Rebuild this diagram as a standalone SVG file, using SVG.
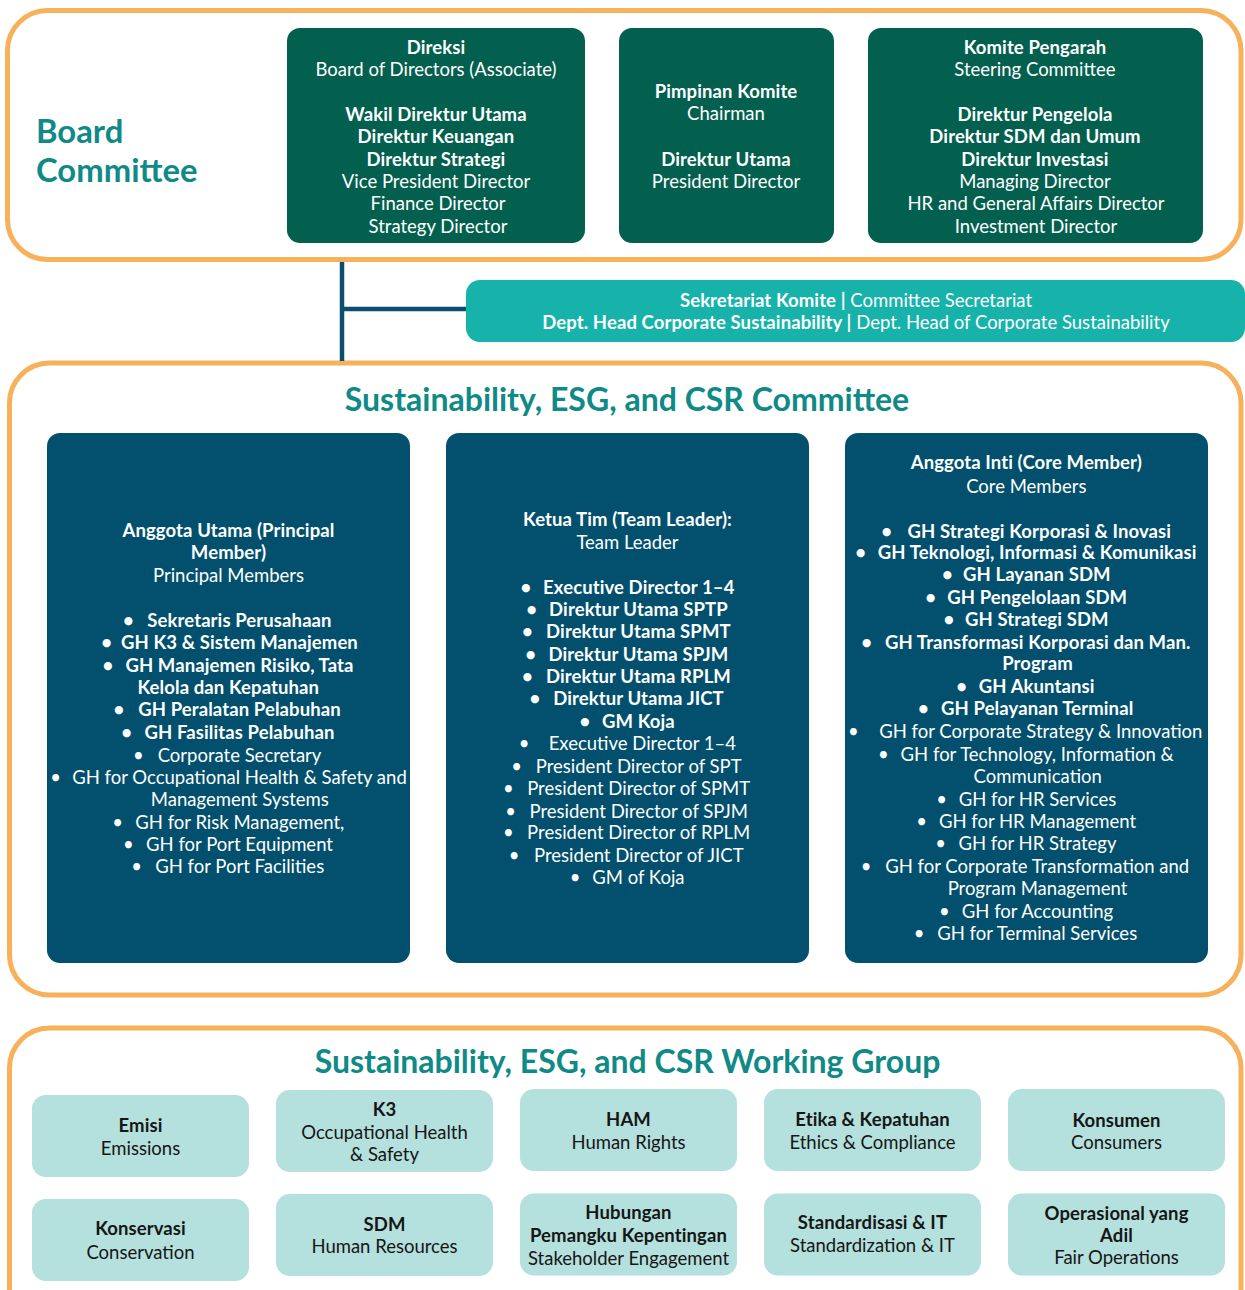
<svg xmlns="http://www.w3.org/2000/svg" width="1245" height="1290" viewBox="0 0 1245 1290">
<style>
text { font-family: Lato, "Liberation Sans", sans-serif; font-size: 18.5px; text-anchor: middle; }
.w { fill: #ffffff; }
.k { fill: #161616; }
.b { font-weight: 700; letter-spacing: 0.1px; }
.t { font-weight: 700; fill: #0F8A86; font-size: 32px; }
.bt { font-size: 32.8px; text-anchor: start; }
.frame { fill: none; stroke: #F8B15B; stroke-width: 5; }
.green { fill: #03604F; }
.blue { fill: #02506D; }
.sec { fill: #17B3AB; }
.wg { fill: #B4E0DD; }
.conn { stroke: #0A4F6E; stroke-width: 4.5; fill: none; }
</style>

<!-- frames -->
<rect class="frame" x="7.5" y="10.5" width="1233.5" height="249" rx="40"/>
<rect class="frame" x="9.5" y="363" width="1231.5" height="632" rx="40"/>
<rect class="frame" x="9.5" y="1028" width="1231.5" height="320" rx="40"/>

<!-- connectors -->
<g id="connectors">
  <line class="conn" x1="342" y1="262" x2="342" y2="361"/>
  <line class="conn" x1="342" y1="309" x2="467" y2="309"/>
</g>

<g id="board-title">
  <text class="t bt" x="36" y="143.3">Board</text>
  <text class="t bt" x="36" y="181.7">Committee</text>
</g>

<g id="direksi">
  <rect class="green" x="287" y="28" width="298" height="215" rx="13"/>
  <text class="w b" x="436" y="53.5">Direksi</text>
  <text class="w" x="436" y="76">Board of Directors (Associate)</text>
  <text class="w b" x="436" y="121">Wakil Direktur Utama</text>
  <text class="w b" x="436" y="143">Direktur Keuangan</text>
  <text class="w b" x="436" y="165.5">Direktur Strategi</text>
  <text class="w" x="436" y="188">Vice President Director</text>
  <text class="w" x="438" y="210">Finance Director</text>
  <text class="w" x="438" y="232.5">Strategy Director</text>
</g>

<g id="pimpinan">
  <rect class="green" x="619" y="28" width="215" height="215" rx="13"/>
  <text class="w b" x="726" y="97.5">Pimpinan Komite</text>
  <text class="w" x="726" y="120">Chairman</text>
  <text class="w b" x="726" y="165.5">Direktur Utama</text>
  <text class="w" x="726" y="188">President Director</text>
</g>

<g id="komite-pengarah">
  <rect class="green" x="868" y="28" width="335" height="215" rx="13"/>
  <text class="w b" x="1035" y="53.5">Komite Pengarah</text>
  <text class="w" x="1035" y="76">Steering Committee</text>
  <text class="w b" x="1035" y="121">Direktur Pengelola</text>
  <text class="w b" x="1035" y="143">Direktur SDM dan Umum</text>
  <text class="w b" x="1035" y="165.5">Direktur Investasi</text>
  <text class="w" x="1035" y="188">Managing Director</text>
  <text class="w" x="1036" y="210">HR and General Affairs Director</text>
  <text class="w" x="1036" y="232.5">Investment Director</text>
</g>

<g id="sekretariat">
  <rect class="sec" x="466" y="280" width="779" height="62" rx="14"/>
  <text class="w" x="856" y="307"><tspan class="b">Sekretariat Komite |</tspan> Committee Secretariat</text>
  <text class="w" x="856" y="329"><tspan class="b">Dept. Head Corporate Sustainability |</tspan> Dept. Head of Corporate Sustainability</text>
</g>

<text class="t" x="627" y="411">Sustainability, ESG, and CSR Committee</text>

<g id="principal-members">
  <rect class="blue" x="47" y="433" width="363" height="530" rx="13"/>
  <text class="w b" x="228.5" y="537">Anggota Utama (Principal</text>
  <text class="w b" x="228.5" y="559">Member)</text>
  <text class="w" x="228.5" y="582">Principal Members</text>
  <text class="w b" x="128.3" y="627">•</text><text class="w b" x="239.5" y="627">Sekretaris Perusahaan</text>
  <text class="w b" x="106.7" y="649">•</text><text class="w b" x="239.5" y="649">GH K3 &amp; Sistem Manajemen</text>
  <text class="w b" x="108" y="672">•</text><text class="w b" x="239.5" y="672">GH Manajemen Risiko, Tata</text>
  <text class="w b" x="228.3" y="693.5">Kelola dan Kepatuhan</text>
  <text class="w b" x="119" y="716">•</text><text class="w b" x="239.5" y="716">GH Peralatan Pelabuhan</text>
  <text class="w b" x="126.7" y="739">•</text><text class="w b" x="239.5" y="739">GH Fasilitas Pelabuhan</text>
  <text class="w" x="138.3" y="761.5">•</text><text class="w" x="239.5" y="761.5">Corporate Secretary</text>
  <text class="w" x="55.7" y="784">•</text><text class="w" x="239.5" y="784">GH for Occupational Health &amp; Safety and</text>
  <text class="w" x="239.8" y="806">Management Systems</text>
  <text class="w" x="117.7" y="828.5">•</text><text class="w" x="239.8" y="828.5">GH for Risk Management,</text>
  <text class="w" x="128.3" y="850.5">•</text><text class="w" x="239.5" y="850.5">GH for Port Equipment</text>
  <text class="w" x="136.7" y="873">•</text><text class="w" x="239.7" y="873">GH for Port Facilities</text>
</g>

<g id="team-leader">
  <rect class="blue" x="446" y="433" width="363" height="530" rx="13"/>
  <text class="w b" x="627.5" y="526">Ketua Tim (Team Leader):</text>
  <text class="w" x="627.5" y="548.7">Team Leader</text>
  <text class="w b" x="526" y="593.7">•</text><text class="w b" x="638.8" y="593.7">Executive Director 1–4</text>
  <text class="w b" x="531.7" y="616">•</text><text class="w b" x="638.4" y="616">Direktur Utama SPTP</text>
  <text class="w b" x="527.3" y="637.7">•</text><text class="w b" x="638.4" y="637.7">Direktur Utama SPMT</text>
  <text class="w b" x="530.7" y="661">•</text><text class="w b" x="638.4" y="661">Direktur Utama SPJM</text>
  <text class="w b" x="527.3" y="682.7">•</text><text class="w b" x="638.5" y="682.7">Direktur Utama RPLM</text>
  <text class="w b" x="535" y="705.3">•</text><text class="w b" x="638.5" y="705.3">Direktur Utama JICT</text>
  <text class="w b" x="585" y="728.3">•</text><text class="w b" x="638.4" y="728.3">GM Koja</text>
  <text class="w" x="524" y="750.3">•</text><text class="w" x="642.3" y="750.3">Executive Director 1–4</text>
  <text class="w" x="516.7" y="772.7">•</text><text class="w" x="638.7" y="772.7">President Director of SPT</text>
  <text class="w" x="508.3" y="795">•</text><text class="w" x="638.7" y="795">President Director of SPMT</text>
  <text class="w" x="510.7" y="817.7">•</text><text class="w" x="638.7" y="817.7">President Director of SPJM</text>
  <text class="w" x="508.3" y="839.3">•</text><text class="w" x="638.7" y="839.3">President Director of RPLM</text>
  <text class="w" x="514" y="862">•</text><text class="w" x="638.8" y="862">President Director of JICT</text>
  <text class="w" x="575" y="884.3">•</text><text class="w" x="638.4" y="884.3">GM of Koja</text>
</g>

<g id="core-members">
  <rect class="blue" x="845" y="433" width="363" height="530" rx="13"/>
  <text class="w b" x="1026.3" y="469.3">Anggota Inti (Core Member)</text>
  <text class="w" x="1026.3" y="492.7">Core Members</text>
  <text class="w b" x="886.7" y="537.7">•</text><text class="w b" x="1039.3" y="537.7">GH Strategi Korporasi &amp; Inovasi</text>
  <text class="w b" x="860.7" y="559.3">•</text><text class="w b" x="1037.2" y="559.3">GH Teknologi, Informasi &amp; Komunikasi</text>
  <text class="w b" x="947.3" y="581.3">•</text><text class="w b" x="1036.8" y="581.3">GH Layanan SDM</text>
  <text class="w b" x="930.7" y="604">•</text><text class="w b" x="1037.2" y="604">GH Pengelolaan SDM</text>
  <text class="w b" x="949" y="626.3">•</text><text class="w b" x="1036.8" y="626.3">GH Strategi SDM</text>
  <text class="w b" x="866.7" y="648.7">•</text><text class="w b" x="1037.7" y="648.7">GH Transformasi Korporasi dan Man.</text>
  <text class="w b" x="1037.5" y="670.3">Program</text>
  <text class="w b" x="961.7" y="693">•</text><text class="w b" x="1036.7" y="693">GH Akuntansi</text>
  <text class="w b" x="923.3" y="715.3">•</text><text class="w b" x="1037.2" y="715.3">GH Pelayanan Terminal</text>
  <text class="w" x="853.3" y="738.3">•</text><text class="w" x="1040.8" y="738.3">GH for Corporate Strategy &amp; Innovation</text>
  <text class="w" x="883.3" y="761.3">•</text><text class="w" x="1037.2" y="761.3">GH for Technology, Information &amp;</text>
  <text class="w" x="1037.7" y="783.3">Communication</text>
  <text class="w" x="941.7" y="806">•</text><text class="w" x="1037.5" y="806">GH for HR Services</text>
  <text class="w" x="921.7" y="828.3">•</text><text class="w" x="1037.5" y="828.3">GH for HR Management</text>
  <text class="w" x="940.7" y="850.3">•</text><text class="w" x="1037.5" y="850.3">GH for HR Strategy</text>
  <text class="w" x="866" y="873">•</text><text class="w" x="1037.2" y="873">GH for Corporate Transformation and</text>
  <text class="w" x="1037.5" y="895.3">Program Management</text>
  <text class="w" x="944.3" y="917.7">•</text><text class="w" x="1037.5" y="917.7">GH for Accounting</text>
  <text class="w" x="919" y="940">•</text><text class="w" x="1037.2" y="940">GH for Terminal Services</text>
</g>

<text class="t" x="627.5" y="1072.5">Sustainability, ESG, and CSR Working Group</text>

<g id="wg-emisi">
  <rect class="wg" x="32" y="1095" width="217" height="82" rx="14"/>
  <text class="k b" x="140.5" y="1132">Emisi</text>
  <text class="k" x="140.5" y="1154.5">Emissions</text>
</g>
<g id="wg-k3">
  <rect class="wg" x="276" y="1090" width="217" height="82" rx="14"/>
  <text class="k b" x="384.5" y="1116">K3</text>
  <text class="k" x="384.5" y="1138.7">Occupational Health</text>
  <text class="k" x="384.5" y="1161">&amp; Safety</text>
</g>
<g id="wg-ham">
  <rect class="wg" x="520" y="1089" width="217" height="82" rx="14"/>
  <text class="k b" x="628.5" y="1126">HAM</text>
  <text class="k" x="628.5" y="1148.7">Human Rights</text>
</g>
<g id="wg-etika">
  <rect class="wg" x="764" y="1089" width="217" height="82" rx="14"/>
  <text class="k b" x="872.5" y="1126">Etika &amp; Kepatuhan</text>
  <text class="k" x="872.5" y="1148.7">Ethics &amp; Compliance</text>
</g>
<g id="wg-konsumen">
  <rect class="wg" x="1008" y="1089" width="217" height="82" rx="14"/>
  <text class="k b" x="1116.5" y="1127">Konsumen</text>
  <text class="k" x="1116.5" y="1148.7">Consumers</text>
</g>
<g id="wg-konservasi">
  <rect class="wg" x="32" y="1199" width="217" height="82" rx="14"/>
  <text class="k b" x="140.5" y="1235.3">Konservasi</text>
  <text class="k" x="140.5" y="1258.7">Conservation</text>
</g>
<g id="wg-sdm">
  <rect class="wg" x="276" y="1194" width="217" height="82" rx="14"/>
  <text class="k b" x="384.5" y="1231">SDM</text>
  <text class="k" x="384.5" y="1253.3">Human Resources</text>
</g>
<g id="wg-hubungan">
  <rect class="wg" x="520" y="1193.5" width="217" height="82" rx="14"/>
  <text class="k b" x="628.5" y="1219.3">Hubungan</text>
  <text class="k b" x="628.5" y="1242">Pemangku Kepentingan</text>
  <text class="k" x="628.5" y="1265.3">Stakeholder Engagement</text>
</g>
<g id="wg-standardisasi">
  <rect class="wg" x="764" y="1193.5" width="217" height="82" rx="14"/>
  <text class="k b" x="872.5" y="1229">Standardisasi &amp; IT</text>
  <text class="k" x="872.5" y="1252">Standardization &amp; IT</text>
</g>
<g id="wg-operasional">
  <rect class="wg" x="1008" y="1193.5" width="217" height="82" rx="14"/>
  <text class="k b" x="1116.5" y="1220.3">Operasional yang</text>
  <text class="k b" x="1116.5" y="1242">Adil</text>
  <text class="k" x="1116.5" y="1264.3">Fair Operations</text>
</g>
</svg>
